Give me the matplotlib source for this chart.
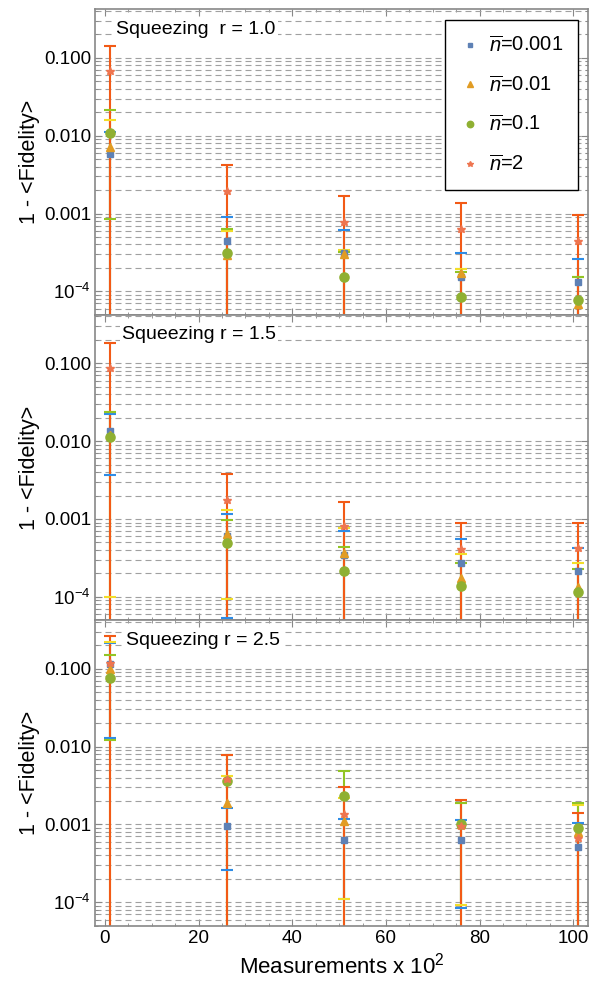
import numpy as np
import matplotlib.pyplot as plt
from matplotlib.ticker import FixedLocator, MultipleLocator, NullFormatter, LogLocator

plt.rcParams['font.family'] = ['Liberation Sans', 'DejaVu Sans']
plt.rcParams['mathtext.fontset'] = 'custom'
plt.rcParams['mathtext.rm'] = 'Liberation Sans'
plt.rcParams['mathtext.it'] = 'Liberation Sans:italic'

steps = [1, 26, 51, 76, 101]
nbar_labels = [r'$\overline{n}$=0.001', r'$\overline{n}$=0.01',
               r'$\overline{n}$=0.1', r'$\overline{n}$=2']
panel_titles = ['Squeezing  r = 1.0', 'Squeezing r = 1.5', 'Squeezing r = 2.5']

OFF = 1e-6  # lower end of bar lies below the plotted range

# rows: nbar = 0.001, 0.01, 0.1, 2
r10_mean = [[0.0058, 0.00044, 0.00031, 0.000155, 0.00013],
            [0.0072, 0.00029, 0.00030, 0.00017, 0.000068],
            [0.0108, 0.000314, 0.000152, 0.000084, 0.000078],
            [0.068, 0.00194, 0.00078, 0.00063, 0.000443]]
r10_hi = [[0.0111, 0.0009, 0.00062, 0.000314, 0.000263],
          [0.0157, 0.0006, 0.000336, 0.000195, 0.000152],
          [0.0215, 0.00063, 0.00032, 0.000177, 0.000152],
          [0.14, 0.00423, 0.00167, 0.00137, 0.00095]]
r10_lo = [[OFF, OFF, OFF, OFF, OFF],
          [OFF, OFF, OFF, OFF, OFF],
          [0.00086, OFF, OFF, OFF, OFF],
          [OFF, OFF, OFF, OFF, OFF]]

r15_mean = [[0.0134, 0.0006, 0.00034, 0.000273, 0.000212],
            [0.012, 0.00065, 0.00037, 0.000175, 0.000134],
            [0.0114, 0.00049, 0.000212, 0.000137, 0.000115],
            [0.088, 0.00177, 0.0008, 0.00041, 0.00042]]
r15_hi = [[0.0226, 0.00117, 0.0007, 0.00055, 0.000427],
          [0.0237, 0.00129, 0.00077, 0.000355, 0.000273],
          [0.0235, 0.00097, 0.00043, 0.00027, 0.000229],
          [0.183, 0.00378, 0.00167, 0.00089, 0.00089]]
r15_lo = [[0.0037, 0.000054, OFF, OFF, OFF],
          [0.000099, 0.000095, OFF, OFF, OFF],
          [OFF, OFF, OFF, OFF, OFF],
          [OFF, OFF, OFF, OFF, OFF]]

r25_mean = [[0.116, 0.00094, 0.00063, 0.00063, 0.00052],
            [0.10, 0.0019, 0.0011, 0.001, 0.0008],
            [0.0766, 0.0036, 0.00235, 0.001, 0.00089],
            [0.119, 0.0038, 0.00137, 0.00095, 0.00067]]
r25_hi = [[0.216, 0.00163, 0.00116, 0.00115, 0.00104],
          [0.22, 0.0042, 0.0022, 0.0019, 0.00177],
          [0.15, 0.0077, 0.0049, 0.0019, 0.00186],
          [0.26, 0.0079, 0.0030, 0.00205, 0.00142]]
r25_lo = [[0.0127, 0.000263, 0.00011, 0.000085, OFF],
          [OFF, OFF, 0.00011, 0.000091, OFF],
          [0.0122, OFF, OFF, OFF, OFF],
          [OFF, OFF, OFF, OFF, OFF]]

panels = [(r10_mean, r10_lo, r10_hi), (r15_mean, r15_lo, r15_hi), (r25_mean, r25_lo, r25_hi)]

marker_colors = ['#5E81B5', '#E19C24', '#8FB032', '#EE7550']
bar_colors = ['#2E8CE6', '#F2DE2A', '#92C524', '#F25A16']
markers = ['s', '^', 'o', '*']
msizes = [4.8, 6, 6.6, 6.2]

fig, axs = plt.subplots(3, 1, sharex=True, figsize=(5.98, 9.81), dpi=100)
fig.subplots_adjust(left=0.159, right=0.983, top=0.9905, bottom=0.0564, hspace=0)

text_x = [0.043, 0.055, 0.063]
for k, ax in enumerate(axs):
    mean, lo, hi = panels[k]
    ax.set_yscale('log')
    for j in range(4):
        m = np.array(mean[j])
        err = [m - np.array(lo[j]), np.array(hi[j]) - m]
        pl, caps, bars = ax.errorbar(steps, m, yerr=err, fmt='none', ecolor=bar_colors[j],
                                     elinewidth=1.5, capsize=4, capthick=1.5)
        for c in caps:
            c.set_zorder(3)
        for b in bars:
            b.set_zorder(2 + 0.1 * j)
    for j in range(4):
        ax.plot(steps, mean[j], markers[j], color=marker_colors[j], ms=msizes[j],
                mec=marker_colors[j], zorder=5, label=nbar_labels[j])

    ax.set_ylim(5e-5, 0.42)
    ax.set_xlim(-2.1, 103.1)
    ax.yaxis.set_major_locator(FixedLocator([1e-4, 1e-3, 1e-2, 1e-1]))
    ax.set_yticklabels([r'$10^{-4}$', '0.001', '0.010', '0.100'])
    ax.yaxis.set_minor_locator(LogLocator(base=10, subs=np.arange(2, 10)))
    ax.yaxis.set_minor_formatter(NullFormatter())
    ax.xaxis.set_major_locator(MultipleLocator(20))
    ax.xaxis.set_minor_locator(MultipleLocator(5))
    ax.yaxis.grid(True, which='both', ls=(0, (5.4, 3.6)), color='#a0a0a0', lw=0.8)
    ax.tick_params(which='both', direction='in', top=True, right=True, color='#888888',
                   labelsize=13.5, pad=3)
    ax.tick_params(which='major', length=5)
    ax.tick_params(which='minor', length=2.5)
    for s in ax.spines.values():
        s.set_color('#888888')
        s.set_linewidth(1.2)
    ax.set_ylabel('1 - <Fidelity>', fontsize=15.5, labelpad=3)
    ax.text(text_x[k], 0.935, panel_titles[k], transform=ax.transAxes, fontsize=14,
            ha='left', va='center', zorder=6,
            bbox=dict(facecolor='white', edgecolor='none', pad=1.5))

leg = axs[0].legend(loc='upper right', bbox_to_anchor=(0.98, 0.965), borderaxespad=0,
                    fontsize=14.5, frameon=True, fancybox=False, edgecolor='black',
                    framealpha=1, labelspacing=0.95, markerscale=0.7, handletextpad=0.5,
                    handlelength=0.9, borderpad=0.75)
leg.get_frame().set_linewidth(1.0)

axs[2].set_xlabel(r'Measurements x $10^2$', fontsize=16, labelpad=4)

plt.savefig('out.png', dpi=100)
